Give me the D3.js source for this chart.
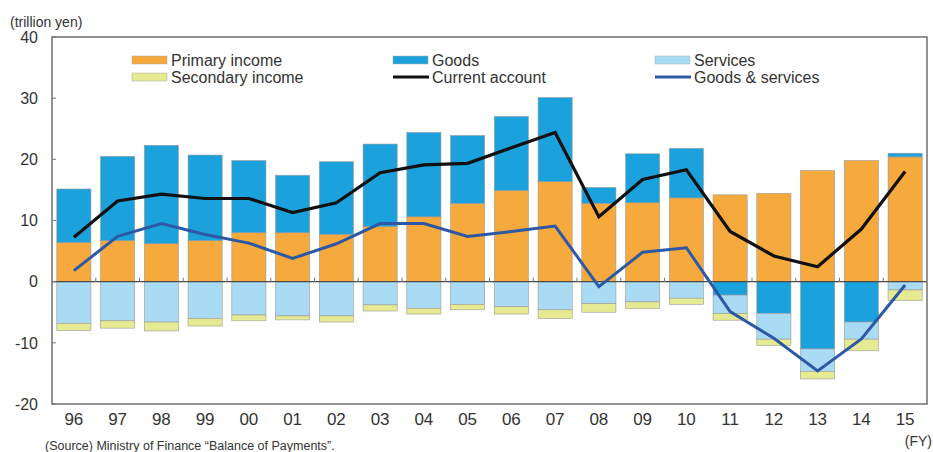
<!DOCTYPE html>
<html>
<head>
<meta charset="utf-8">
<script src="https://cdnjs.cloudflare.com/ajax/libs/d3/7.8.5/d3.min.js"></script>
<style>
  body { margin: 0; background: #fff; }
  text { font-family: "Liberation Sans", Arial, sans-serif; fill: #333; }
</style>
</head>
<body>
<script>
const years = ["96","97","98","99","00","01","02","03","04","05","06","07","08","09","10","11","12","13","14","15"];
const primaryIncome = [6.4, 6.7, 6.2, 6.7, 8.0, 8.0, 7.75, 9.0, 10.6, 12.8, 14.9, 16.35, 12.8, 12.9, 13.7, 14.2, 14.45, 18.15, 19.8, 20.4];
const goods = [8.75, 13.8, 16.1, 14.0, 11.8, 9.4, 11.85, 13.5, 13.8, 11.1, 12.1, 13.75, 2.6, 8.0, 8.1, -2.2, -5.2, -11.0, -6.6, 0.6];
const services = [-6.8, -6.4, -6.6, -6.0, -5.45, -5.6, -5.6, -3.8, -4.35, -3.7, -4.1, -4.6, -3.6, -3.3, -2.7, -3.0, -4.2, -3.65, -2.8, -1.35];
const secondaryIncome = [-1.2, -1.2, -1.45, -1.25, -0.95, -0.65, -1.0, -1.0, -0.95, -0.9, -1.2, -1.4, -1.4, -1.1, -1.0, -1.1, -1.0, -1.25, -1.9, -1.75];
const currentAccount = [7.26, 13.2, 14.3, 13.6, 13.6, 11.3, 12.9, 17.8, 19.1, 19.35, 21.9, 24.4, 10.6, 16.7, 18.3, 8.2, 4.2, 2.45, 8.6, 18.0];
const goodsServices = [1.8, 7.4, 9.5, 7.7, 6.3, 3.8, 6.2, 9.5, 9.5, 7.4, 8.2, 9.1, -0.8, 4.8, 5.55, -4.9, -9.25, -14.6, -9.37, -0.55];
const yTicks = [40, 30, 20, 10, 0, -10, -20];

const W = 933, H = 452;
const margin = {top: 37, right: 6, bottom: 48, left: 52};

const svg = d3.select("body").append("svg")
    .attr("width", W)
    .attr("height", H);

const x = d3.scaleBand()
    .domain(years)
    .range([margin.left, W - margin.right])
    .paddingInner(0.22)
    .paddingOuter(0.11);

const y = d3.scaleLinear()
    .domain([-20, 40])
    .range([H - margin.bottom, margin.top]);

const keys = ["primary", "goods", "services", "secondary"];
const colors = {primary: "#F6A93C", goods: "#1BA1DB", services: "#A9DBF4", secondary: "#E6EA92"};

const table = years.map((yr, i) => ({
    year: yr,
    primary: primaryIncome[i],
    goods: goods[i],
    services: services[i],
    secondary: secondaryIncome[i]
}));

const series = d3.stack()
    .keys(keys)
    .offset(d3.stackOffsetDiverging)(table);

// bars
svg.append("g")
    .selectAll("g")
    .data(series)
    .join("g")
    .attr("fill", d => colors[d.key])
    .selectAll("rect")
    .data(d => d)
    .join("rect")
    .attr("x", d => x(d.data.year))
    .attr("width", x.bandwidth())
    .attr("y", d => y(Math.max(d[0], d[1])))
    .attr("height", d => Math.abs(y(d[0]) - y(d[1])))
    .attr("stroke", "#9a9a9a")
    .attr("stroke-width", 0.6);

// zero line and its ticks
svg.append("line")
    .attr("x1", margin.left).attr("x2", W - margin.right)
    .attr("y1", y(0)).attr("y2", y(0))
    .attr("stroke", "#4a4a4a").attr("stroke-width", 1.3);

const step = x.step();
svg.append("g")
    .selectAll("line")
    .data(years.slice(1))
    .join("line")
    .attr("x1", d => x(d) - step * 0.11)
    .attr("x2", d => x(d) - step * 0.11)
    .attr("y1", y(0)).attr("y2", y(0) - 4)
    .attr("stroke", "#777");

// lines
const line = data => d3.line()
    .x((d, i) => x(years[i]) + x.bandwidth() / 2)
    .y(d => y(d))(data);

svg.append("path")
    .attr("d", line(currentAccount))
    .attr("fill", "none")
    .attr("stroke", "#111")
    .attr("stroke-width", 3.2)
    .attr("stroke-linejoin", "miter");

svg.append("path")
    .attr("d", line(goodsServices))
    .attr("fill", "none")
    .attr("stroke", "#2D58A6")
    .attr("stroke-width", 3)
    .attr("stroke-linejoin", "miter");

// frame
svg.append("rect")
    .attr("x", margin.left).attr("y", margin.top)
    .attr("width", W - margin.left - margin.right)
    .attr("height", H - margin.top - margin.bottom)
    .attr("fill", "none")
    .attr("stroke", "#6f6f6f")
    .attr("stroke-width", 1.5);

// y axis
const yAxis = svg.append("g");
yAxis.selectAll("line")
    .data(yTicks)
    .join("line")
    .attr("x1", margin.left).attr("x2", margin.left + 4)
    .attr("y1", d => y(d)).attr("y2", d => y(d))
    .attr("stroke", "#777");
yAxis.selectAll("text")
    .data(yTicks)
    .join("text")
    .attr("x", 38)
    .attr("y", d => y(d))
    .attr("dy", "0.36em")
    .attr("text-anchor", "end")
    .style("font-size", "16px")
    .text(d => d);

// x labels
svg.append("g")
    .selectAll("text")
    .data(years)
    .join("text")
    .attr("x", d => x(d) + x.bandwidth() / 2)
    .attr("y", 425)
    .attr("text-anchor", "middle")
    .style("font-size", "17px")
    .text(d => d);

svg.append("text")
    .attr("x", 10).attr("y", 27)
    .style("font-size", "14px")
    .text("(trillion yen)");

svg.append("text")
    .attr("x", 932).attr("y", 446)
    .attr("text-anchor", "end")
    .style("font-size", "14px")
    .text("(FY)");

svg.append("text")
    .attr("x", 45).attr("y", 450)
    .style("font-size", "12.5px")
    .text("(Source) Ministry of Finance \u201cBalance of Payments\u201d.");

// legend
const legendItems = [
    {label: "Primary income", type: "rect", color: colors.primary, x: 132, row: 0},
    {label: "Goods", type: "rect", color: colors.goods, x: 393, row: 0},
    {label: "Services", type: "rect", color: colors.services, x: 655, row: 0},
    {label: "Secondary income", type: "rect", color: colors.secondary, x: 132, row: 1},
    {label: "Current account", type: "line", color: "#111", x: 393, row: 1},
    {label: "Goods & services", type: "line", color: "#2D58A6", x: 655, row: 1}
];

const legend = svg.append("g")
    .selectAll("g")
    .data(legendItems)
    .join("g")
    .attr("transform", d => `translate(${d.x},${60 + d.row * 17})`);

legend.filter(d => d.type === "rect")
    .append("rect")
    .attr("x", 0).attr("y", -4)
    .attr("width", 35).attr("height", 8)
    .attr("fill", d => d.color)
    .attr("stroke", "#aaa")
    .attr("stroke-width", 0.5);

legend.filter(d => d.type === "line")
    .append("line")
    .attr("x1", 0).attr("x2", 36)
    .attr("y1", 0).attr("y2", 0)
    .attr("stroke", d => d.color)
    .attr("stroke-width", 3);

legend.append("text")
    .attr("x", 39)
    .attr("dy", "0.36em")
    .style("font-size", "16px")
    .text(d => d.label);
</script>
</body>
</html>
